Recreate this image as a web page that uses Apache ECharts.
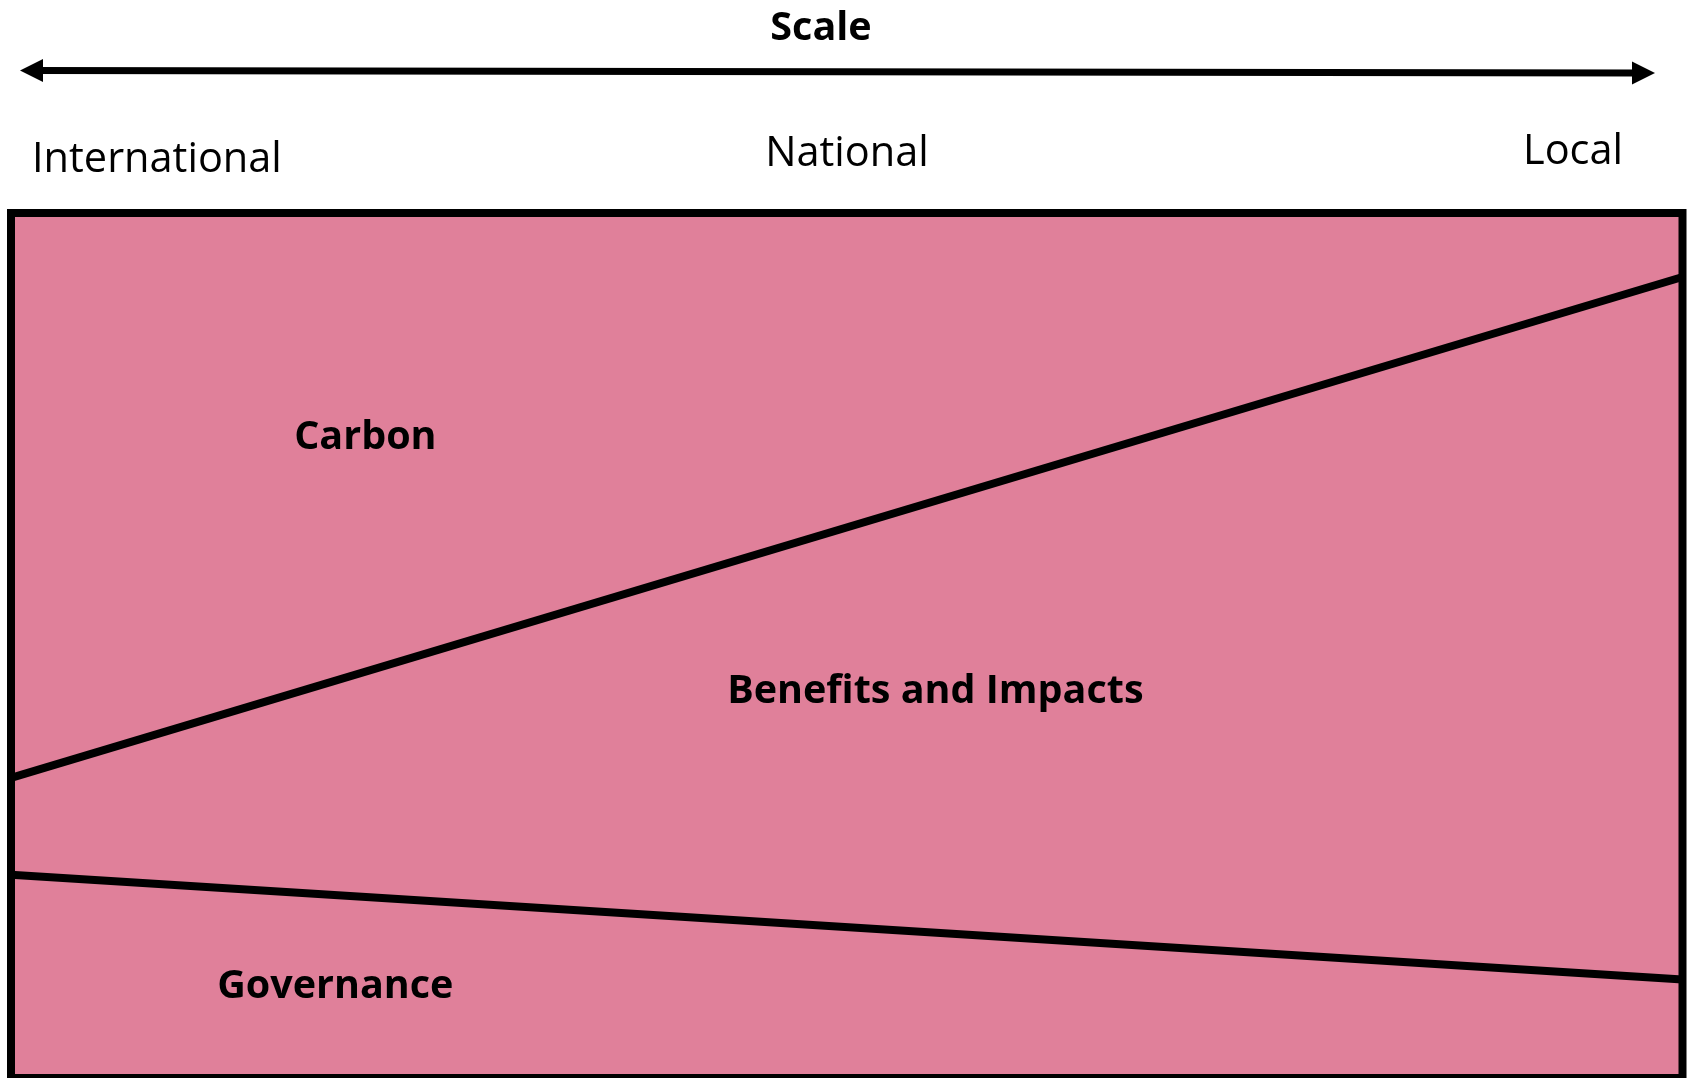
<!DOCTYPE html>
<html>
<head>
<meta charset="utf-8">
<script src="https://cdn.jsdelivr.net/npm/echarts@6/dist/echarts.min.js"></script>
<style>
html,body{margin:0;padding:0;background:#fff;}
#chart{width:1688px;height:1078px;}
</style>
</head>
<body>
<div id="chart"></div>
<script>
// Scale ends (boundary lines are straight from International to Local)
const scaleEnds = ['International', 'Local'];
const scaleLabels = ['International', 'National', 'Local'];
const axisTitle = 'Scale';
// Band thicknesses (percent of box height) at International and Local, stacked bottom→top
const bandNames = ['Governance', 'Benefits and Impacts', 'Carbon'];
const governance = [23.5, 11.4];
const benefits = [11.2, 81.2];
const carbon = [65.3, 7.4];
// Region label anchor points: [fraction along scale (0=International, 1=Local), percent height]
const regionLabelNames = ['Carbon', 'Benefits and Impacts', 'Governance'];
const regionLabelX = [0.212, 0.553, 0.194];
const regionLabelY = [74.0, 44.6, 10.5];

const PINK = '#E0809A';
const FONT = '"Open Sans", "Noto Sans", sans-serif';

const chart = echarts.init(document.getElementById('chart'), null, {renderer: 'canvas'});

function band(name, values, showLine) {
  return {
    name: name,
    type: 'line',
    stack: 'scale',
    xAxisIndex: 0,
    yAxisIndex: 0,
    data: values,
    symbol: 'none',
    lineStyle: {color: '#000', width: showLine ? 8 : 0},
    silent: true,
    z: 3
  };
}

const arrowY0 = 70.5, arrowY1 = 73;
const arrowX0 = 20, arrowX1 = 1655;

chart.setOption({
  animation: false,
  backgroundColor: '#fff',
  grid: {
    left: 11, right: 5.5, top: 213, bottom: 0,
    show: true,
    backgroundColor: PINK,
    borderColor: '#000',
    borderWidth: 8
  },
  xAxis: [
    {type: 'category', data: scaleEnds, boundaryGap: false, show: false},
    {type: 'value', min: 0, max: 1, show: false}
  ],
  yAxis: {type: 'value', min: 0, max: 100, show: false},
  series: [
    band(bandNames[0], governance, true),
    band(bandNames[1], benefits, true),
    band(bandNames[2], carbon, false),
    {
      type: 'scatter',
      xAxisIndex: 1,
      yAxisIndex: 0,
      symbolSize: 1,
      silent: true,
      z: 5,
      itemStyle: {color: 'rgba(0,0,0,0)', opacity: 1},
      data: regionLabelNames.map((n, i) => ({value: [regionLabelX[i], regionLabelY[i]], name: n})),
      label: {
        show: true,
        position: 'inside',
        formatter: '{b}',
        color: '#000',
        opacity: 1,
        fontFamily: FONT,
        fontWeight: 'bold',
        fontSize: 39.5
      }
    }
  ],
  graphic: [
    {type: 'line', shape: {x1: arrowX0 + 18, y1: arrowY0, x2: arrowX1 - 18, y2: arrowY1},
     style: {stroke: '#000', lineWidth: 7}},
    {type: 'polygon', shape: {points: [[arrowX0, arrowY0], [arrowX0 + 23, arrowY0 - 11.5], [arrowX0 + 23, arrowY0 + 11.5]]},
     style: {fill: '#000'}},
    {type: 'polygon', shape: {points: [[arrowX1, arrowY1], [arrowX1 - 23, arrowY1 - 11.5], [arrowX1 - 23, arrowY1 + 11.5]]},
     style: {fill: '#000'}},
    {type: 'text', x: 821, y: 29,
     style: {text: axisTitle, fill: '#000', font: 'bold 39.5px ' + FONT, textAlign: 'center', textVerticalAlign: 'middle'}},
    {type: 'text', x: 32, y: 160,
     style: {text: scaleLabels[0], fill: '#000', font: '41.5px ' + FONT, textAlign: 'left', textVerticalAlign: 'middle'}},
    {type: 'text', x: 847, y: 154,
     style: {text: scaleLabels[1], fill: '#000', font: '41.5px ' + FONT, textAlign: 'center', textVerticalAlign: 'middle'}},
    {type: 'text', x: 1573, y: 152,
     style: {text: scaleLabels[2], fill: '#000', font: '41.5px ' + FONT, textAlign: 'center', textVerticalAlign: 'middle'}}
  ]
});
</script>
</body>
</html>
